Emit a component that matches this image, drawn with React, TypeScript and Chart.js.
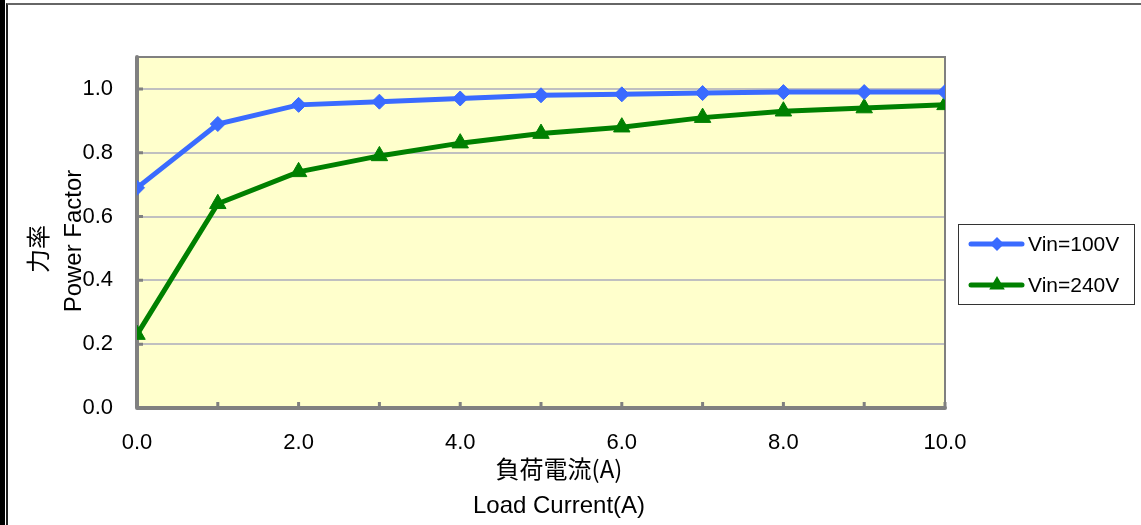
import React, { useEffect, useRef } from "react";
import { Chart, registerables } from "chart.js";

Chart.register(...registerables);

const loadCurrent = [0, 1, 2, 3, 4, 5, 6, 7, 8, 9, 10];
const pf100V = [0.69, 0.89, 0.95, 0.96, 0.97, 0.98, 0.983, 0.987, 0.99, 0.99, 0.99];
const pf240V = [0.23, 0.64, 0.74, 0.79, 0.83, 0.86, 0.88, 0.91, 0.93, 0.94, 0.95];
const seriesNames = ["Vin=100V", "Vin=240V"];
const yTitleJa = "力率";
const yTitleEn = "Power Factor";
const xTitleJa = "負荷電流(A)";
const xTitleEn = "Load Current(A)";

const BLUE = "#3A6BFF";
const GREEN = "#008000";
const AXIS = "#808080";

const decorPlugin = {
  id: "decor",
  beforeDraw(chart: any) {
    const { ctx, chartArea: a } = chart;
    ctx.save();
    ctx.fillStyle = "#FFFFCC";
    ctx.fillRect(a.left, a.top, a.right - a.left, a.bottom - a.top);
    ctx.restore();
  },
  beforeDatasetsDraw(chart: any) {
    const { ctx, chartArea: a, scales } = chart;
    const xs = scales.x;
    const ys = scales.y;
    ctx.save();
    ctx.strokeStyle = AXIS;
    ctx.lineWidth = 2;
    ctx.beginPath();
    ctx.moveTo(a.left, a.top);
    ctx.lineTo(a.right, a.top);
    ctx.lineTo(a.right, a.bottom);
    ctx.stroke();
    ctx.lineWidth = 3;
    ctx.beginPath();
    for (const v of loadCurrent) {
      const px = xs.getPixelForValue(v);
      ctx.moveTo(px, a.bottom);
      ctx.lineTo(px, a.bottom - 6);
    }
    for (let v = 0; v <= 1.0001; v += 0.2) {
      const py = ys.getPixelForValue(v);
      ctx.moveTo(a.left, py);
      ctx.lineTo(a.left + 6, py);
    }
    ctx.stroke();
    ctx.lineWidth = 4;
    ctx.lineCap = "round";
    ctx.lineJoin = "round";
    ctx.beginPath();
    ctx.moveTo(a.left, a.top);
    ctx.lineTo(a.left, a.bottom);
    ctx.lineTo(a.right, a.bottom);
    ctx.stroke();
    ctx.restore();
  },
  afterDraw(chart: any) {
    const { ctx } = chart;
    ctx.save();
    ctx.fillStyle = "#000";
    ctx.textAlign = "center";
    ctx.textBaseline = "middle";
    ctx.save();
    ctx.translate(38, 249);
    ctx.rotate(-Math.PI / 2);
    ctx.font = "24px 'Noto Sans CJK JP'";
    ctx.fillText(yTitleJa, 0, 0);
    ctx.restore();
    ctx.save();
    ctx.translate(74, 241);
    ctx.rotate(-Math.PI / 2);
    ctx.font = "24px 'Liberation Sans', Arial, sans-serif";
    ctx.fillText(yTitleEn, 0, 0);
    ctx.restore();
    ctx.font = "24px 'Noto Sans CJK JP'";
    ctx.fillText(xTitleJa, 559, 469);
    ctx.font = "24px 'Liberation Sans', Arial, sans-serif";
    ctx.fillText(xTitleEn, 559, 506);

    ctx.strokeStyle = "#333";
    ctx.lineWidth = 1;
    ctx.strokeRect(958.5, 224.5, 176, 80);
    const rows = [244, 285];
    chart.data.datasets.forEach((ds: any, i: number) => {
      const y = rows[i];
      ctx.strokeStyle = ds.borderColor;
      ctx.lineWidth = 5;
      ctx.lineCap = "round";
      ctx.beginPath();
      ctx.moveTo(971, y);
      ctx.lineTo(1022, y);
      ctx.stroke();
      ctx.fillStyle = ds.pointBackgroundColor;
      ctx.beginPath();
      if (ds.pointStyle === "rectRot") {
        const r = 7;
        ctx.moveTo(997 - r, y);
        ctx.lineTo(997, y - r);
        ctx.lineTo(997 + r, y);
        ctx.lineTo(997, y + r);
      } else {
        const r = 9;
        ctx.moveTo(997, y - r);
        ctx.lineTo(997 + r * 0.866, y + r / 2);
        ctx.lineTo(997 - r * 0.866, y + r / 2);
      }
      ctx.closePath();
      ctx.fill();
      ctx.fillStyle = "#000";
      ctx.textAlign = "left";
      ctx.font = "21px 'Liberation Sans', Arial, sans-serif";
      ctx.fillText(ds.label, 1028, y + 1);
    });
    ctx.restore();
  },
};

export default function App() {
  const ref = useRef<HTMLCanvasElement>(null);

  useEffect(() => {
    if (!ref.current) return;
    const chart = new Chart(ref.current, {
      type: "line",
      data: {
        datasets: [
          {
            label: seriesNames[0],
            data: loadCurrent.map((x, i) => ({ x, y: pf100V[i] })),
            borderColor: BLUE,
            backgroundColor: BLUE,
            pointBackgroundColor: BLUE,
            pointBorderColor: BLUE,
            borderWidth: 5,
            pointStyle: "rectRot",
            pointRadius: 7.5,
            pointBorderWidth: 1,
            tension: 0,
          },
          {
            label: seriesNames[1],
            data: loadCurrent.map((x, i) => ({ x, y: pf240V[i] })),
            borderColor: GREEN,
            backgroundColor: GREEN,
            pointBackgroundColor: GREEN,
            pointBorderColor: GREEN,
            borderWidth: 5,
            pointStyle: "triangle",
            pointRadius: 9.5,
            pointBorderWidth: 1,
            tension: 0,
          },
        ],
      },
      options: {
        animation: false,
        responsive: false,
        maintainAspectRatio: false,
        devicePixelRatio: 1,
        layout: { padding: { left: 57, right: 196, top: 57, bottom: 57 } },
        plugins: {
          legend: { display: false },
          tooltip: { enabled: false },
        },
        scales: {
          x: {
            type: "linear",
            min: 0,
            max: 10,
            afterFit: (s: any) => {
              s.height = 60;
            },
            grid: { display: false, drawTicks: false },
            border: { display: false },
            ticks: {
              stepSize: 1,
              autoSkip: false,
              maxRotation: 0,
              padding: 22,
              color: "#000",
              font: { family: "'Liberation Sans', Arial, sans-serif", size: 22 },
              callback: (v: any) => (Number(v) % 2 === 0 ? Number(v).toFixed(1) : ""),
            },
          },
          y: {
            type: "linear",
            min: 0,
            max: 1.1,
            afterFit: (s: any) => {
              s.width = 80;
            },
            afterBuildTicks: (s: any) => {
              s.ticks = s.ticks.filter((t: any) => t.value <= 1.0001);
            },
            grid: {
              color: (c: any) => (c.tick && c.tick.value > 0.001 ? "#C0C0C0" : "rgba(0,0,0,0)"),
              lineWidth: 2,
              drawTicks: false,
            },
            border: { display: false },
            ticks: {
              stepSize: 0.2,
              padding: 24,
              color: "#000",
              font: { family: "'Liberation Sans', Arial, sans-serif", size: 22 },
              callback: (v: any) => Number(v).toFixed(1),
            },
          },
        },
      },
      plugins: [decorPlugin],
    } as any);
    return () => chart.destroy();
  }, []);

  return (
    <div
      style={{
        position: "absolute",
        left: 0,
        top: 0,
        width: 1141,
        height: 525,
        background: "#fff",
        overflow: "hidden",
      }}
    >
      <div style={{ position: "absolute", left: 0, top: 0, width: 5, height: 525, background: "#000" }} />
      <div
        style={{
          position: "absolute",
          left: 6,
          top: 3,
          width: 1200,
          height: 600,
          borderTop: "2px solid #666",
          borderLeft: "2px solid #222",
        }}
      />
      <canvas ref={ref} width={1141} height={525} style={{ position: "absolute", left: 0, top: 0 }} />
    </div>
  );
}
